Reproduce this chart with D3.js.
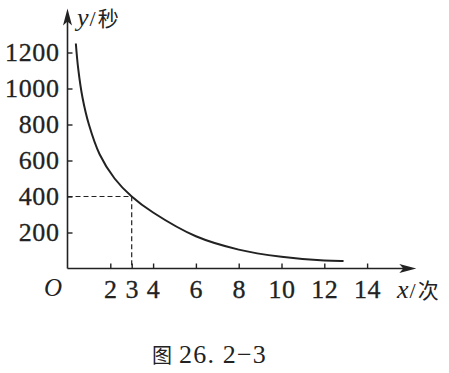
<!DOCTYPE html>
<html>
<head>
<meta charset="utf-8">
<script src="https://cdnjs.cloudflare.com/ajax/libs/d3/7.8.5/d3.min.js"></script>
<style>
body { margin: 0; background: #fff; }
</style>
</head>
<body>
<div id="svg"></div>
<script>
// curve (x = 次, y = 秒)
var curveX = [0.39, 0.5, 0.7, 1.0, 1.5, 2.2, 3, 4, 6, 8, 10, 12, 12.9];
var curveY = [1250, 1110, 950, 800, 635, 500, 400, 311, 179, 105, 65, 44, 42];
var xTicks = [2, 3, 4, 6, 8, 10, 12, 14];
var yTicks = [200, 400, 600, 800, 1000, 1200];
var marked = [3, 400];
var xMaxArrow = 16.3, yMaxArrow = 1445;

var w = 449, h = 373;
var serif = "'Liberation Serif', 'DejaVu Serif', serif";
var cjk = "'Noto Sans CJK SC', sans-serif";

var svg = d3.select("#svg").append("svg")
    .attr("width", w)
    .attr("height", h);

var x = d3.scaleLinear().domain([0, 14]).range([67.5, 367.1]);
var y = d3.scaleLinear().domain([0, 1200]).range([268.5, 52.5]);

// axis lines with arrows
svg.append("line")
    .attr("x1", x(0)).attr("y1", y(0))
    .attr("x2", x(xMaxArrow) - 10).attr("y2", y(0))
    .attr("stroke", "#222").attr("stroke-width", 1.6);
svg.append("line")
    .attr("x1", x(0)).attr("y1", y(0))
    .attr("x2", x(0)).attr("y2", y(yMaxArrow) + 10)
    .attr("stroke", "#222").attr("stroke-width", 1.6);

var xt = x(xMaxArrow), yt = y(0);
svg.append("path")
    .attr("d", "M" + xt + "," + yt + "L" + (xt - 17) + "," + (yt - 4.5) + "L" + (xt - 13) + "," + yt + "L" + (xt - 17) + "," + (yt + 4.5) + "Z")
    .attr("fill", "#222");
var ax = x(0), ay = y(yMaxArrow);
svg.append("path")
    .attr("d", "M" + ax + "," + ay + "L" + (ax - 4.5) + "," + (ay + 17) + "L" + ax + "," + (ay + 13) + "L" + (ax + 4.5) + "," + (ay + 17) + "Z")
    .attr("fill", "#222");

// ticks and labels
var gx = svg.append("g")
    .attr("transform", "translate(0," + y(0) + ")")
    .call(d3.axisBottom(x).tickValues(xTicks).tickSize(-5).tickPadding(11).tickFormat(d3.format("d")));
var gy = svg.append("g")
    .attr("transform", "translate(" + x(0) + ",0)")
    .call(d3.axisLeft(y).tickValues(yTicks).tickSize(-5).tickPadding(8).tickFormat(d3.format("d")));

[gx, gy].forEach(function(g) {
    g.attr("font-family", null).attr("font-size", null);
    g.select(".domain").remove();
    g.selectAll(".tick line").attr("stroke", "#222").attr("stroke-width", 1.4);
    g.selectAll(".tick text")
        .attr("fill", "#222")
        .attr("stroke", "#222")
        .attr("stroke-width", 0.3)
        .attr("font-family", serif)
        .attr("font-size", 26)
        .attr("letter-spacing", 0.6);
});

// dashed guide to (3, 400)
svg.append("path")
    .attr("d", "M" + x(0) + "," + y(marked[1]) + "H" + x(marked[0]) + "V" + y(0))
    .attr("fill", "none")
    .attr("stroke", "#222")
    .attr("stroke-width", 1.2)
    .attr("stroke-dasharray", "5,3");

// curve
var pts = curveX.map(function(d, i) { return [d, curveY[i]]; });
var line = d3.line()
    .x(function(d) { return x(d[0]); })
    .y(function(d) { return y(d[1]); })
    .curve(d3.curveCatmullRom.alpha(0.5));
svg.append("path")
    .datum(pts)
    .attr("d", line)
    .attr("fill", "none")
    .attr("stroke", "#222")
    .attr("stroke-width", 2);

// origin
svg.append("text")
    .attr("x", 53).attr("y", 296)
    .attr("text-anchor", "middle")
    .attr("font-family", serif).attr("font-style", "italic").attr("font-size", 25)
    .attr("fill", "#222")
    .text("O");

// axis titles
var ty = svg.append("text").attr("x", 77).attr("y", 26).attr("fill", "#222");
ty.append("tspan").attr("font-family", serif).attr("font-style", "italic").attr("font-size", 26).text("y");
ty.append("tspan").attr("font-family", serif).attr("font-size", 22).attr("dx", 1).text("/");
ty.append("tspan").attr("font-family", cjk).attr("font-size", 21).attr("dx", 2).text("秒");

var tx = svg.append("text").attr("x", 397).attr("y", 298).attr("fill", "#222");
tx.append("tspan").attr("font-family", serif).attr("font-style", "italic").attr("font-size", 26).text("x");
tx.append("tspan").attr("font-family", serif).attr("font-size", 22).attr("dx", 1).text("/");
tx.append("tspan").attr("font-family", cjk).attr("font-size", 21).attr("dx", 2).text("次");

// caption
var cap = svg.append("text").attr("x", 152).attr("y", 363).attr("fill", "#222");
cap.append("tspan").attr("font-family", cjk).attr("font-size", 20).text("图");
cap.append("tspan").attr("font-family", serif).attr("font-size", 26).attr("letter-spacing", 1.2).attr("dx", 7).text("26. 2−3");
</script>
</body>
</html>
